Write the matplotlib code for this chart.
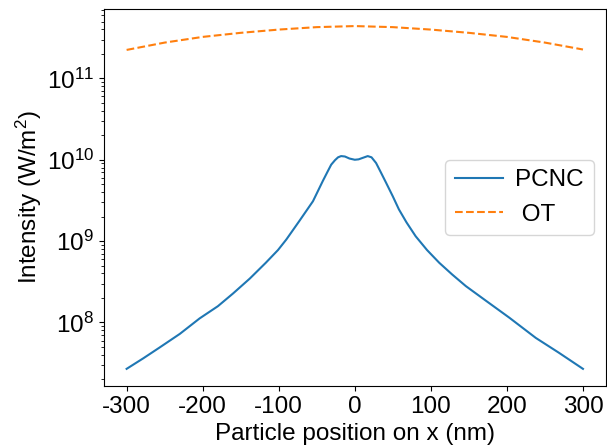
import numpy as np
import matplotlib
matplotlib.use("Agg")
import matplotlib.pyplot as plt

plt.rcParams['font.family'] = ['Liberation Sans', 'DejaVu Sans']
plt.rcParams['mathtext.fontset'] = 'custom'
plt.rcParams['mathtext.rm'] = 'Liberation Sans'
plt.rcParams['mathtext.it'] = 'Liberation Sans:italic'
plt.rcParams['mathtext.default'] = 'regular'
plt.rcParams['axes.unicode_minus'] = False

# PCNC intensity as log10 values
x_pcnc = [-300, -278, -257, -230, -204, -180, -160, -138, -117, -101, -90, -73,
          -55, -42, -36, -31, -26, -22, -18, -13, -7, 0, 5, 11, 17, 22, 28, 34, 41, 50,
          58, 68, 80, 95, 111, 128, 146, 172, 203, 238, 268, 300]
log_pcnc = [7.43, 7.56, 7.69, 7.86, 8.05, 8.2, 8.357, 8.54, 8.734, 8.89, 9.02, 9.246,
            9.49, 9.74, 9.85, 9.94, 9.995, 10.03, 10.045, 10.04, 10.015, 10.0, 10.005, 10.025,
            10.045, 10.03, 9.96, 9.85, 9.72, 9.55,
            9.39, 9.23, 9.06, 8.89, 8.734, 8.59, 8.447, 8.27, 8.06, 7.81, 7.63, 7.43]

# OT intensity
x_ot = [-300, -250, -200, -150, -100, -50, 0, 50, 100, 150, 200, 250, 300]
log_ot = [11.35, 11.44, 11.51, 11.56, 11.60, 11.63, 11.643, 11.63, 11.60,
          11.56, 11.51, 11.44, 11.355]

x_ticks = [-300, -200, -100, 0, 100, 200, 300]

pcnc = 10 ** np.array(log_pcnc)
ot = 10 ** np.array(log_ot)

fig = plt.figure(figsize=(6.07, 4.47), dpi=100)
ax = fig.add_axes([0.171, 0.1365, 0.827, 0.8435])

ax.plot(x_pcnc, pcnc, color='#1f77b4', lw=1.5, label='PCNC')
ax.plot(x_ot, ot, color='#ff7f0e', lw=1.5, ls='--', label=' OT')
ax.set_yscale('log')
ax.set_xticks(x_ticks)

ax.set_xlabel('Particle position on x (nm)', fontsize=17.5, labelpad=4)
ax.set_ylabel('Intensity (W/m$^2$)', fontsize=17.5, labelpad=2)
ax.tick_params(labelsize=17.5)
ax.legend(loc='center right', fontsize=17.5, handletextpad=0.5)

fig.savefig('out.png', dpi=100)
